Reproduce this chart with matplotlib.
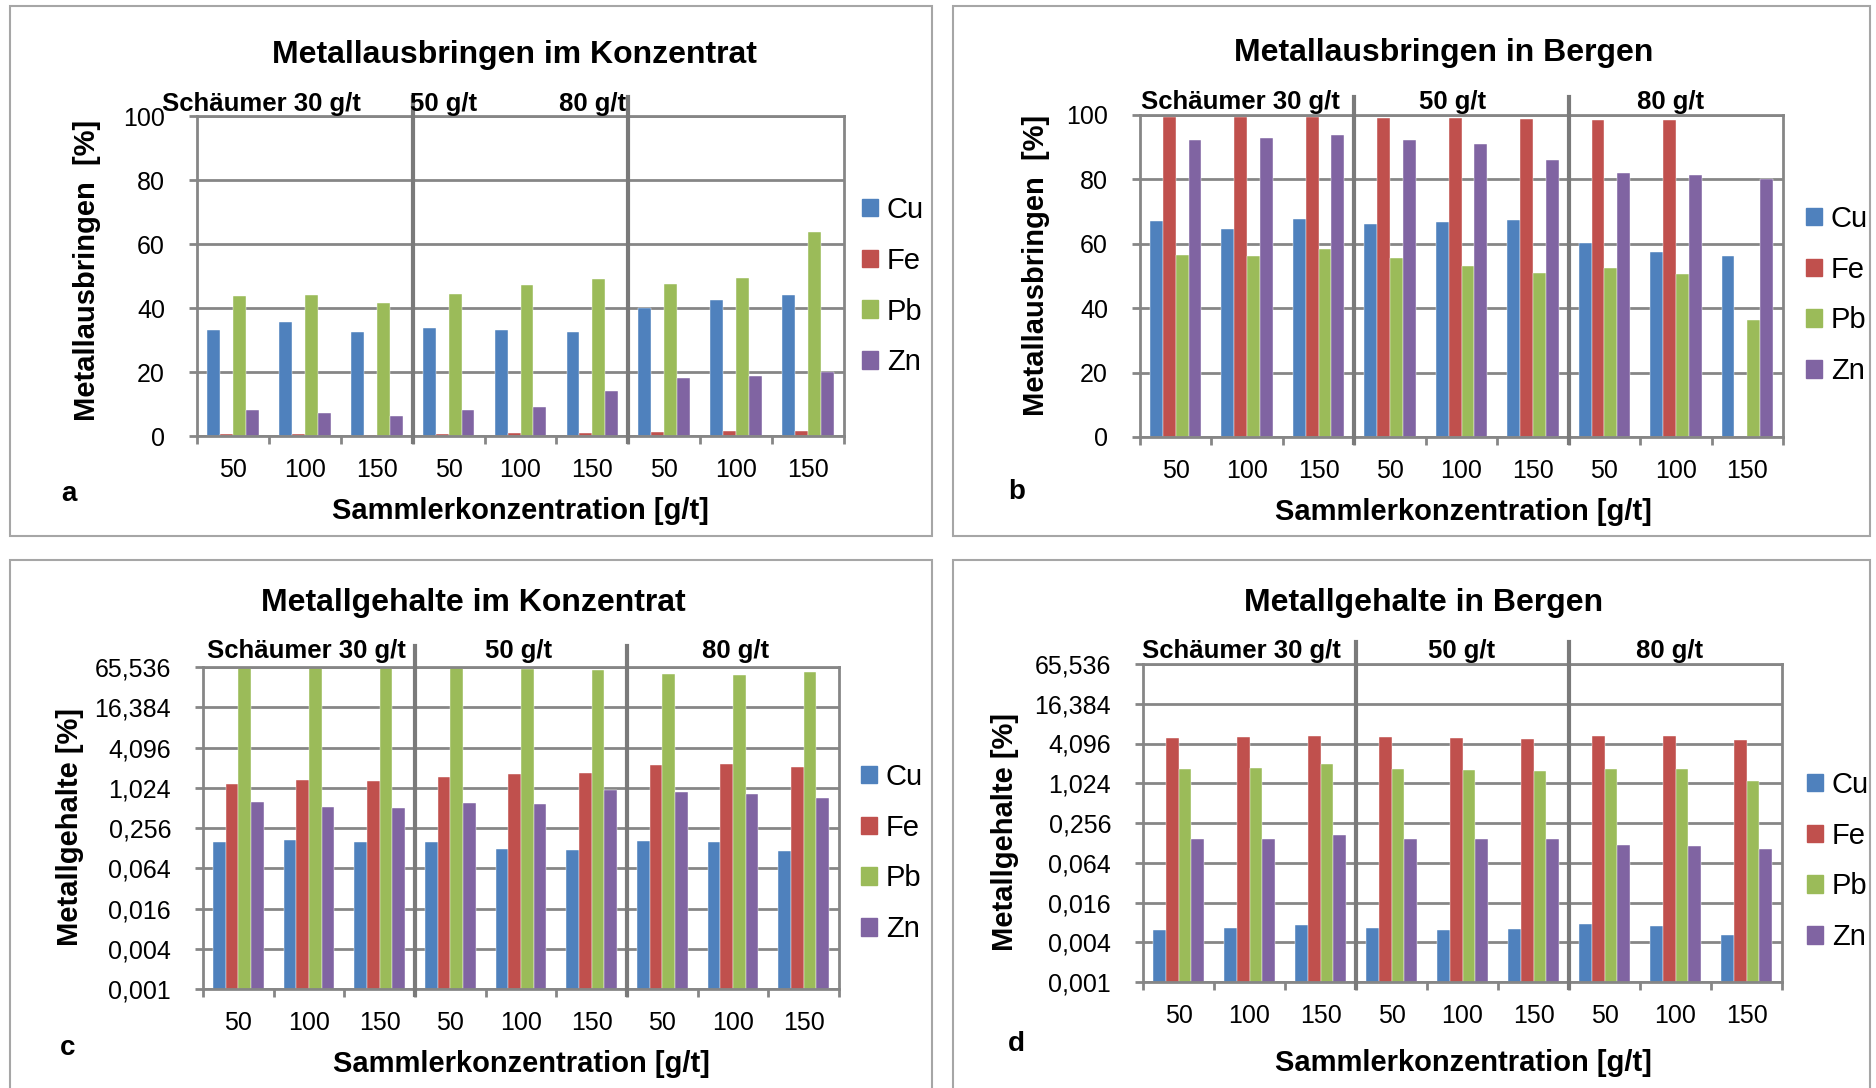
import numpy as np
import matplotlib
matplotlib.use("Agg")
import matplotlib.pyplot as plt
import matplotlib.transforms as mtransforms
from matplotlib.patches import Rectangle, Patch
from matplotlib.ticker import FixedLocator, NullLocator

plt.rcParams['font.family'] = ['Liberation Sans', 'DejaVu Sans']

metals = ["Cu", "Fe", "Pb", "Zn"]
colors = ["#4F81BD", "#C0504D", "#9BBB59", "#8064A2"]
collector = ["50", "100", "150"] * 3
frother = ["Schäumer 30 g/t", "50 g/t", "80 g/t"]

# a: Metallausbringen im Konzentrat [%]
a_cu = [33.0, 35.6, 32.6, 33.8, 33.2, 32.6, 40.0, 42.5, 44.0]
a_fe = [0.5, 0.6, 0.4, 0.6, 0.8, 1.0, 1.4, 1.6, 1.7]
a_pb = [43.8, 44.0, 41.7, 44.5, 47.1, 49.1, 47.4, 49.4, 63.7]
a_zn = [8.0, 7.3, 6.3, 8.2, 9.0, 14.1, 18.2, 18.7, 20.1]
# b: Metallausbringen in Bergen [%]
b_cu = [67.0, 64.6, 67.6, 66.3, 66.8, 67.4, 60.3, 57.6, 56.1]
b_fe = [99.5, 99.5, 99.4, 99.2, 99.0, 98.7, 98.6, 98.5, 0.0]
b_pb = [56.5, 56.1, 58.4, 55.7, 53.0, 50.9, 52.6, 50.6, 36.3]
b_zn = [92.2, 92.8, 93.8, 92.1, 91.1, 86.1, 82.0, 81.4, 80.0]
# c: Metallgehalte im Konzentrat [%]
c_cu = [0.158, 0.170, 0.160, 0.156, 0.126, 0.120, 0.166, 0.157, 0.115]
c_fe = [1.18, 1.35, 1.31, 1.50, 1.62, 1.72, 2.26, 2.31, 2.08]
c_pb = [65.5, 65.5, 65.5, 65.5, 61.5, 59.5, 51.0, 50.6, 54.7]
c_zn = [0.635, 0.53, 0.51, 0.60, 0.58, 0.94, 0.88, 0.82, 0.73]
# d: Metallgehalte in Bergen [%]
d_cu = [0.0062, 0.0066, 0.0072, 0.0065, 0.0062, 0.0063, 0.0076, 0.0071, 0.0051]
d_fe = [4.90, 5.15, 5.34, 5.10, 4.98, 4.85, 5.28, 5.34, 4.57]
d_pb = [1.71, 1.76, 1.98, 1.71, 1.65, 1.55, 1.71, 1.71, 1.10]
d_zn = [0.147, 0.149, 0.166, 0.144, 0.144, 0.147, 0.118, 0.115, 0.102]

lin_ticks = [0, 20, 40, 60, 80, 100]
log_ticks = [0.001 * 4 ** k for k in range(9)]

W, H = 1876, 1088
fig = plt.figure(figsize=(W / 100, H / 100), dpi=100)
GRID = "#868686"

panels = [
    dict(series=[a_cu, a_fe, a_pb, a_zn], log=False, box=(197, 116, 844, 436),
         frame=(10, 6, 932, 536), title="Metallausbringen im Konzentrat", title_xy=(514, 55),
         ylabel="Metallausbringen  [%]", ylabel_xy=(87, 270), xlabel_xy=(520, 511),
         letter="a", letter_xy=(69, 494), leg_xy=(862, 196), sep_top=1.06,
         groups=[(-0.99, "left"), (2.46, "left"), (4.54, "left")], group_y=104),
    dict(series=[b_cu, b_fe, b_pb, b_zn], log=False, box=(1140, 115, 1783, 437),
         frame=(953, 6, 1870, 536), title="Metallausbringen in Bergen", title_xy=(1444, 53),
         ylabel="Metallausbringen  [%]", ylabel_xy=(1036, 265), xlabel_xy=(1463, 512),
         letter="b", letter_xy=(1017, 492), leg_xy=(1806, 205), sep_top=1.055,
         groups=[(0.9, "center"), (3.87, "center"), (6.92, "center")], group_y=102),
    dict(series=[c_cu, c_fe, c_pb, c_zn], log=True, box=(203, 667, 839, 989),
         frame=(10, 560, 932, 1100), title="Metallgehalte im Konzentrat", title_xy=(473, 603),
         ylabel="Metallgehalte [%]", ylabel_xy=(70, 827), xlabel_xy=(521, 1064),
         letter="c", letter_xy=(68, 1048), leg_xy=(861, 763), sep_top=1.065,
         groups=[(0.97, "center"), (3.96, "center"), (7.04, "center")], group_y=651),
    dict(series=[d_cu, d_fe, d_pb, d_zn], log=True, box=(1143, 664, 1782, 982),
         frame=(953, 560, 1870, 1100), title="Metallgehalte in Bergen", title_xy=(1424, 603),
         ylabel="Metallgehalte [%]", ylabel_xy=(1005, 832), xlabel_xy=(1463, 1063),
         letter="d", letter_xy=(1016, 1044), leg_xy=(1807, 771), sep_top=1.07,
         groups=[(0.89, "center"), (3.98, "center"), (6.92, "center")], group_y=651),
]


def fx(x):
    return x / W


def fy(y):
    return 1 - y / H


x = np.arange(len(collector))
bw = 0.18

for p in panels:
    x0, y0, x1, y1 = p["frame"]
    fig.add_artist(Rectangle((fx(x0), fy(y1)), (x1 - x0) / W, (y1 - y0) / H,
                             transform=fig.transFigure, fill=False, ec="#a6a6a6", lw=1.5))
    l, t, r, b = p["box"]
    ax = fig.add_axes([fx(l), fy(b), (r - l) / W, (b - t) / H])
    if p["log"]:
        ax.set_yscale("log", base=4, nonpositive="clip")
        ax.set_ylim(log_ticks[0], log_ticks[-1])
        ax.yaxis.set_major_locator(FixedLocator(log_ticks))
        ax.set_yticklabels([f"{v:.3f}".replace(".", ",") for v in log_ticks])
    else:
        ax.set_ylim(0, 100)
        ax.set_yticks(lin_ticks)
    ax.yaxis.set_minor_locator(NullLocator())
    for i, (vals, col) in enumerate(zip(p["series"], colors)):
        ax.bar(x + (i - 1.5) * bw, vals, bw, color=col, label=metals[i],
               edgecolor="white", linewidth=0.3, zorder=2)
    ax.set_xlim(-0.5, len(collector) - 0.5)
    ax.set_xticks(x)
    ax.set_xticklabels(collector, fontsize=18)
    ax.xaxis.set_minor_locator(FixedLocator(np.arange(-0.5, len(collector), 1.0)))
    ax.tick_params(axis="x", which="major", length=0, pad=16)
    ax.tick_params(axis="x", which="minor", length=6, width=2, color=GRID, direction="out")
    ax.tick_params(axis="y", which="major", length=6, width=2, color=GRID, labelsize=18, pad=17)
    ax.yaxis.grid(True, color=GRID, lw=2)
    ax.set_axisbelow(True)
    for s in ax.spines.values():
        s.set_color(GRID)
        s.set_linewidth(2)
    trans = mtransforms.blended_transform_factory(ax.transData, ax.transAxes)
    for sx in (2.5, 5.5):
        ax.plot([sx, sx], [-0.02, p["sep_top"]], transform=trans, color="#7a7a7a",
                lw=3, clip_on=False, zorder=3)
    gy = 1 + (t - p["group_y"]) / (b - t)
    for (gx, ha), lab in zip(p["groups"], frother):
        ax.text(gx, gy, lab, transform=trans, ha=ha, va="center",
                fontsize=18.5, fontweight="bold")
    fig.text(fx(p["title_xy"][0]), fy(p["title_xy"][1]), p["title"], ha="center",
             va="center", fontsize=23, fontweight="bold")
    fig.text(fx(p["xlabel_xy"][0]), fy(p["xlabel_xy"][1]), "Sammlerkonzentration [g/t]",
             ha="center", va="center", fontsize=21, fontweight="bold")
    fig.text(fx(p["ylabel_xy"][0]), fy(p["ylabel_xy"][1]), p["ylabel"], ha="center",
             va="center", rotation=90, fontsize=21, fontweight="bold")
    fig.text(fx(p["letter_xy"][0]), fy(p["letter_xy"][1]), p["letter"], ha="center",
             va="center", fontsize=20, fontweight="bold")
    handles = [Patch(color=c, label=m) for m, c in zip(metals, colors)]
    ax.legend(handles=handles, loc="upper left",
              bbox_to_anchor=(fx(p["leg_xy"][0]), fy(p["leg_xy"][1])),
              bbox_transform=fig.transFigure, frameon=False, fontsize=21,
              handlelength=0.55, handleheight=0.55, handletextpad=0.3,
              labelspacing=0.78, borderpad=0, borderaxespad=0)

fig.savefig("out.png", dpi=100)
